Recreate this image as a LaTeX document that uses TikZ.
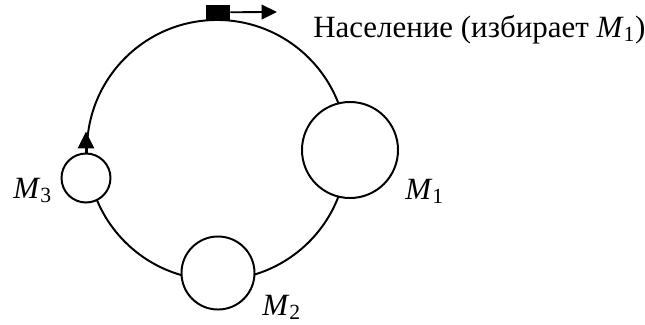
\documentclass[tikz,border=0pt]{standalone}
\usepackage{fontspec}
\setmainfont{Liberation Serif}
\usepackage{tikz}
\usetikzlibrary{arrows.meta, positioning, calc}
\newcommand{\modelname}[1]{\textit{M}\textsubscript{#1}}
\tikzset{
  orbitline/.style={line width=1.4pt},
  modelcircle/.style={
    circle, draw, line width=1.4pt, fill=white, inner sep=0pt
  },
  popmark/.style={
    rectangle, fill=black, inner sep=0pt,
    minimum width=0.6cm, minimum height=0.375cm
  },
  modelarrow/.style={
    -{Triangle[length=11pt, width=10.5pt]}, line width=1.3pt
  },
  modellabel/.style={
    font=\fontsize{22}{26}\selectfont, inner sep=0pt, anchor=base west
  },
}

\begin{document}
\begin{tikzpicture}[x=0.025cm, y=-0.025cm]
  \useasboundingbox (0,0) rectangle (645,324);
  % big cycle
  \coordinate (ctr) at (217,150);
  \draw[orbitline] (ctr) circle (3.25cm);
  % models on the cycle
  \node[modelcircle, minimum size=2.4cm] (m1) at (350,150) {};
  \node[modelcircle, minimum size=1.825cm] (m2) at (218,273) {};
  \node[modelcircle, minimum size=1.225cm] (m3) at (86,178) {};
  % direction of motion
  \draw[modelarrow, -{Triangle[length=12pt, width=11.5pt]}]
    (m3.north) -- ++(0,-21);
  % population marker
  \node[popmark, anchor=south] (pop) at (218,20) {};
  \coordinate (popend) at (277,12);
  \draw[modelarrow] (pop.east) -- (popend);
  % labels
  \node[modellabel] (poplabel) at (313,37) {Население (избирает \modelname{1})};
  \node[modellabel] (m1label) at (405,199) {\modelname{1}};
  \node[modellabel] (m2label) at (262,315) {\modelname{2}};
  \node[modellabel] (m3label) at (13,198) {\modelname{3}};
\end{tikzpicture}
\end{document}
